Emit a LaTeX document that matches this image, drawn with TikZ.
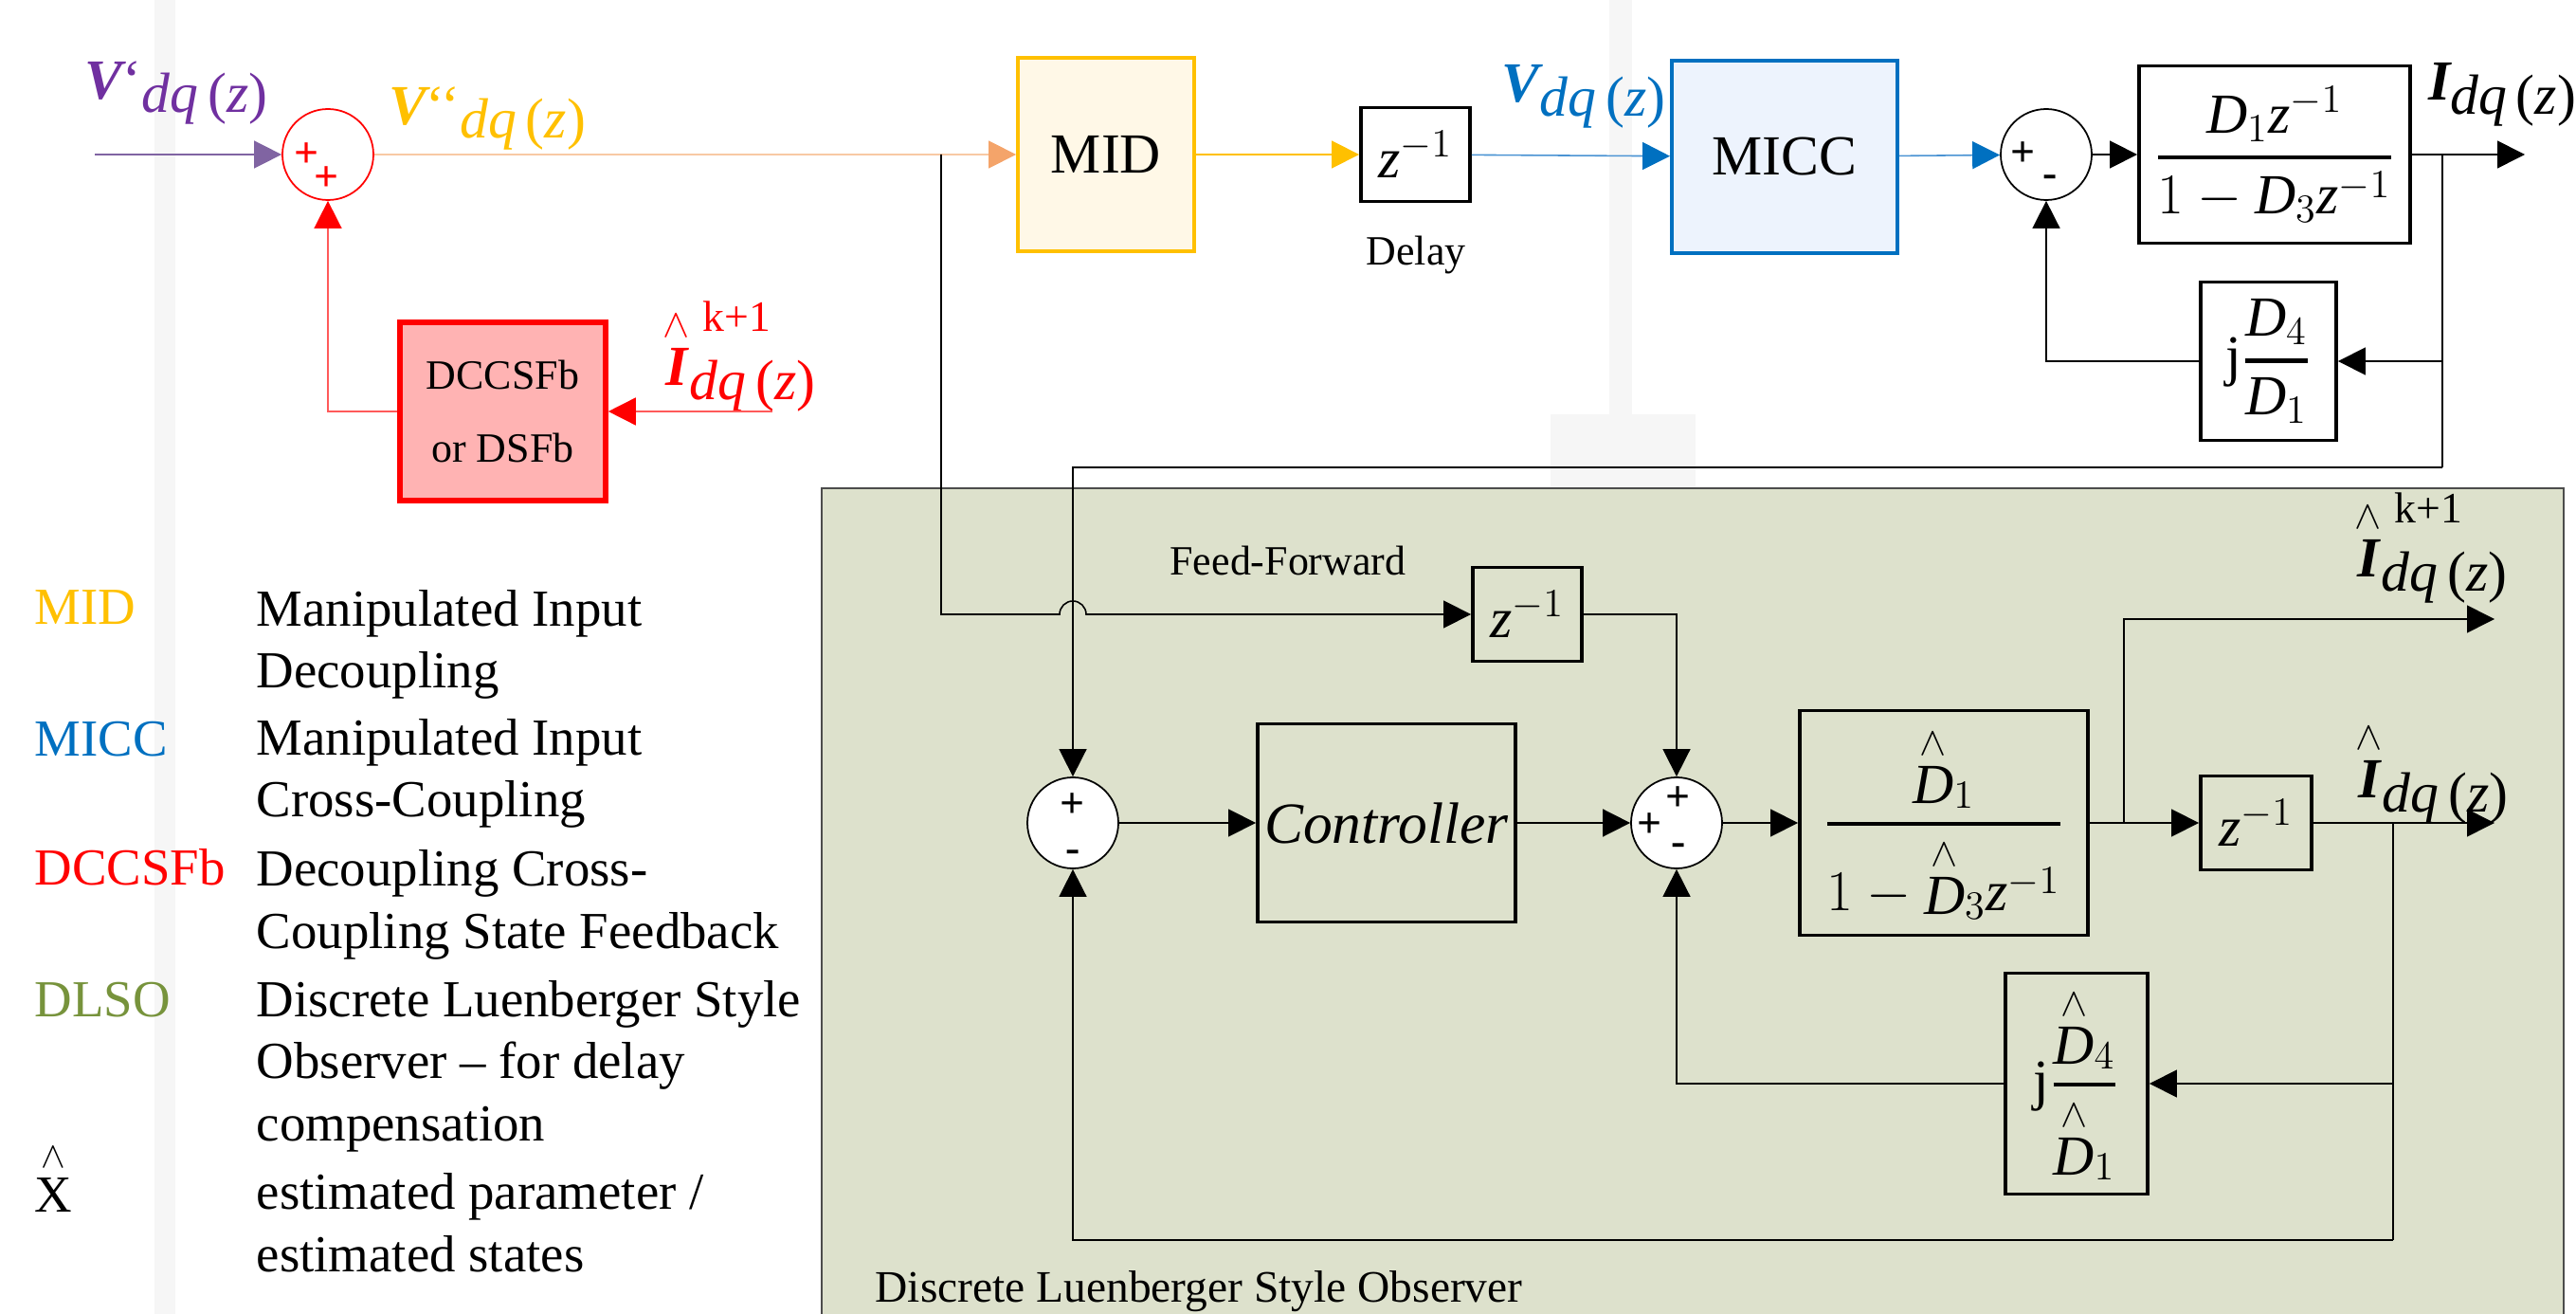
\documentclass[tikz,border=0pt]{standalone}
\usepackage{amsmath}
\usepackage{fontspec}
\setmainfont{Liberation Serif}
\usetikzlibrary{arrows.meta}

\definecolor{dlsopurple}{HTML}{7030A0}
\definecolor{dlsoviolet}{HTML}{8064A2}
\definecolor{dlsogold}{HTML}{FFC000}
\definecolor{dlsoorange}{HTML}{F4A46A}
\definecolor{dlsopeach}{HTML}{F8C9A4}
\definecolor{dlsoblue}{HTML}{0070C0}
\definecolor{dlsosky}{HTML}{4A93D3}
\definecolor{dlsored}{HTML}{FF0000}
\definecolor{dlsorose}{HTML}{FF5A5A}
\definecolor{dlsopink}{HTML}{FFB3B3}
\definecolor{dlsocream}{HTML}{FFF8E7}
\definecolor{dlsoice}{HTML}{EDF3FD}
\definecolor{dlsoolive}{HTML}{77933C}
\definecolor{dlsobg}{HTML}{DDE1CC}
\definecolor{dlsostripe}{HTML}{F6F6F6}

\newcommand{\dqz}{\raisebox{-0.25em}{\itshape dq\,{\upshape(}z{\upshape)}}}
\newcommand{\hatI}{$\stackrel{\wedge}{\mbox{\bfseries\itshape I}}$}
\newcommand{\kplus}{\rlap{\raisebox{0.95em}{\fontsize{13}{13}\selectfont\hspace{0.3em}k+1}}}
\newcommand{\hatD}{{\stackrel{\wedge}{\mathit{D}}}}
\newcommand{\zinv}{$\mathit{z}^{-1}$}

\begin{document}
\begin{tikzpicture}[x=1cm, y=-1cm,
  dlsoblock/.style = {draw, line width=1.1pt, inner sep=0pt, align=center, font=\fontsize{17}{20}\selectfont},
  dlsosum/.style = {circle, draw, line width=0.5pt, fill=white, minimum size=0.96cm, inner sep=0pt},
  dlsosign/.style = {font=\fontsize{13}{13}\selectfont\bfseries, inner sep=0pt},
  dlsoarrow/.style = {line width=0.45pt, -{Triangle[length=0.29cm, width=0.29cm, #1]}},
  dlsoarrow/.default = {},
  dlsoline/.style = {line width=0.45pt},
  dlsolbl/.style = {font=\fontsize{17}{20}\selectfont, inner sep=0pt},
  dlsonote/.style = {font=\fontsize{12.5}{15}\selectfont, inner sep=0pt},
  dlsolegend/.style = {anchor=base west, align=left, inner sep=0pt, font=\fontsize{15.6}{18.5}\selectfont}
]
  \useasboundingbox (0,0) rectangle (27.18,13.86);
  % background
  \fill[dlsostripe] (1.63,0) rectangle (1.85,13.86);
  \fill[dlsostripe] (16.98,0) rectangle (17.22,4.37);
  \fill[dlsostripe] (16.36,4.37) rectangle (17.89,5.15);
  \fill[dlsobg] (8.67,5.15) rectangle (27.05,13.86);
  \draw[line width=0.6pt, black!70] (8.67,13.86) -- (8.67,5.15) -- (27.05,5.15) -- (27.05,13.86);

  % plant path
  \node[dlsosum, draw=dlsored] (sumA) at (3.46,1.63) {};
  \node[dlsosign, dlsored] (sumAp) at (3.24,1.64) {+};
  \node[dlsosign, dlsored] (sumAq) at (3.45,1.89) {+};
  \node[dlsoblock, draw=dlsogold, fill=dlsocream, minimum width=1.86cm, minimum height=2.04cm] (mid) at (11.67,1.63) {MID};
  \node[dlsoblock, fill=white, minimum width=1.15cm, minimum height=0.99cm] (dly) at (14.935,1.63) {\zinv};
  \node[dlsonote] (dlylbl) at (14.94,2.69) {Delay};
  \node[dlsoblock, draw=dlsoblue, fill=dlsoice, minimum width=2.38cm, minimum height=2.03cm] (micc) at (18.83,1.655) {MICC};
  \node[dlsosum] (sumB) at (21.59,1.63) {};
  \node[dlsosign] (sumBp) at (21.34,1.63) {+};
  \node[dlsosign] (sumBm) at (21.63,1.91) {-};
  \node[dlsoblock, minimum width=2.86cm, minimum height=1.87cm] (plant) at (24.0,1.63)
    {$\genfrac{}{}{1.2pt}{0}{\mathit{D}_1\mathit{z}^{-1}}{1-\mathit{D}_3\mathit{z}^{-1}}$};
  \node[dlsoblock, minimum width=1.43cm, minimum height=1.67cm] (fbk) at (23.935,3.81)
    {j$\genfrac{}{}{1.2pt}{0}{\mathit{D}_4}{\mathit{D}_1}$};
  \node[dlsoblock, draw=dlsored, fill=dlsopink, line width=1.6pt, minimum width=2.17cm, minimum height=1.88cm,
    font=\fontsize{12.5}{22}\selectfont] (dcc) at (5.305,4.34) {DCCSFb\\or DSFb};

  % signal labels
  \node[dlsolbl, dlsopurple] (vinlbl) at (1.86,0.98) {{\bfseries\itshape V}‘\dqz};
  \node[dlsolbl, dlsogold] (vmidlbl) at (5.14,1.25) {{\bfseries\itshape V}‘‘\dqz};
  \node[dlsolbl, dlsoblue] (vdqlbl) at (16.71,1.02) {{\bfseries\itshape V}\dqz};
  \node[dlsolbl] (idqlbl) at (26.4,1.0) {{\bfseries\itshape I}\dqz};
  \node[dlsolbl, dlsored] (ikplbl) at (7.8,3.76) {\hatI\kplus\dqz};

  % observer
  \node[dlsosum] (sumC) at (11.32,8.68) {};
  \node[dlsosign] (sumCp) at (11.32,8.50) {+};
  \node[dlsosign] (sumCm) at (11.32,9.03) {-};
  \node[dlsoblock, minimum width=2.72cm, minimum height=2.09cm, font=\fontsize{17.5}{20}\selectfont] (ctrl) at (14.63,8.68) {\textit{Controller}};
  \node[dlsosum] (sumD) at (17.69,8.68) {};
  \node[dlsosign] (sumDp) at (17.71,8.43) {+};
  \node[dlsosign] (sumDq) at (17.41,8.71) {+};
  \node[dlsosign] (sumDm) at (17.71,8.96) {-};
  \node[dlsoblock, minimum width=3.04cm, minimum height=2.37cm] (oplant) at (20.51,8.68)
    {$\genfrac{}{}{1.2pt}{0}{\hatD_1}{1-\hatD_3\mathit{z}^{-1}}$};
  \node[dlsoblock, minimum width=1.17cm, minimum height=0.99cm] (odly) at (23.805,8.68) {\zinv};
  \node[dlsoblock, minimum width=1.5cm, minimum height=2.33cm] (ofbk) at (21.91,11.43)
    {j$\genfrac{}{}{1.2pt}{0}{\hatD_4}{\hatD_1}$};
  \node[dlsoblock, minimum width=1.15cm, minimum height=0.99cm] (ffdly) at (16.115,6.48) {\zinv};
  \node[dlsonote] (fflbl) at (13.59,5.91) {Feed-Forward};
  \node[dlsolbl] (okplbl) at (25.65,5.78) {\hatI\kplus\dqz};
  \node[dlsolbl] (oidqlbl) at (25.66,8.15) {\hatI\dqz};
  \node[font=\fontsize{13.5}{16}\selectfont, inner sep=0pt] (obslbl) at (12.65,13.62) {Discrete Luenberger Style Observer};

  % connectors
  \coordinate (vin) at (1.00,1.63);
  \coordinate (b0) at (9.93,1.63);
  \coordinate (ffc) at (9.93,6.48);
  \coordinate (b1) at (25.77,1.63);
  \coordinate (b2) at (25.77,4.93);
  \coordinate (iout) at (26.64,1.63);
  \coordinate (dccin) at (8.15,4.34);
  \coordinate (b3) at (22.41,8.68);
  \coordinate (b4) at (25.25,8.68);
  \coordinate (b5) at (25.25,13.08);
  \coordinate (okp) at (26.32,6.53);
  \coordinate (oout) at (26.32,8.68);

  \draw[dlsoarrow, dlsoviolet] (vin) -- (sumA);
  \draw[dlsoarrow={color=dlsoorange}, dlsopeach] (sumA) -- (mid);
  \draw[dlsoarrow, dlsogold] (mid) -- (dly);
  \draw[dlsoarrow={color=dlsoblue}, dlsosky] (dly) -- (micc);
  \draw[dlsoarrow={color=dlsoblue}, dlsosky] (micc) -- (sumB);
  \draw[dlsoarrow] (sumB) -- (plant);
  \draw[dlsoarrow] (plant) -- (iout);
  \draw[dlsoarrow] (b1) |- (fbk);
  \draw[dlsoarrow] (fbk) -| (sumB);
  \draw[dlsoline] (b1) -- (b2);
  \draw[dlsoarrow] (b2) -| (sumC);
  \draw[dlsoarrow={color=dlsored}, dlsorose] (dccin) -- (dcc);
  \draw[dlsoarrow={color=dlsored}, dlsorose] (dcc) -| (sumA);
  \draw[dlsoarrow] (b0) -- (ffc) -- (11.18,6.48) arc[start angle=180, end angle=360, radius=0.14] -- (ffdly);
  \draw[dlsoarrow] (ffdly) -| (sumD);
  \draw[dlsoarrow] (sumC) -- (ctrl);
  \draw[dlsoarrow] (ctrl) -- (sumD);
  \draw[dlsoarrow] (sumD) -- (oplant);
  \draw[dlsoarrow] (oplant) -- (odly);
  \draw[dlsoarrow] (b3) |- (okp);
  \draw[dlsoarrow] (odly) -- (oout);
  \draw[dlsoarrow] (b4) |- (ofbk);
  \draw[dlsoarrow] (ofbk) -| (sumD);
  \draw[dlsoline] (b4) -- (b5);
  \draw[dlsoarrow] (b5) -| (sumC);

  % legend (base = last line)
  \node[dlsolegend, dlsogold] (lgmid) at (0.36,6.59) {MID};
  \node[dlsolegend] (lgmidtxt) at (2.70,7.26) {Manipulated Input\\Decoupling};
  \node[dlsolegend, dlsoblue] (lgmicc) at (0.36,7.98) {MICC};
  \node[dlsolegend] (lgmicctxt) at (2.70,8.62) {Manipulated Input\\Cross-Coupling};
  \node[dlsolegend, dlsored] (lgdcc) at (0.36,9.34) {DCCSFb};
  \node[dlsolegend] (lgdcctxt) at (2.70,10.00) {Decoupling Cross-\\Coupling State Feedback};
  \node[dlsolegend, dlsoolive] (lgdlso) at (0.36,10.72) {DLSO};
  \node[dlsolegend] (lgdlsotxt) at (2.70,12.03) {Discrete Luenberger Style\\Observer -- for delay\\compensation};
  \node[dlsolegend] (lghat) at (0.36,12.78) {$\stackrel{\wedge}{\mbox{X}}$};
  \node[dlsolegend] (lghattxt) at (2.70,13.41) {estimated parameter /\\estimated states};
\end{tikzpicture}
\end{document}
